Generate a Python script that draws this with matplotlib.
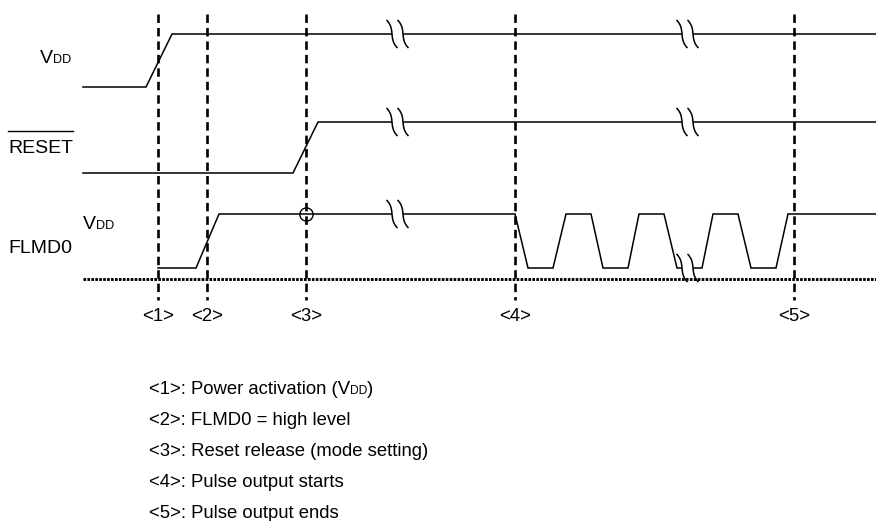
import re
import numpy as np
import matplotlib
matplotlib.use("Agg")
import matplotlib.pyplot as plt

FONT = ["Liberation Sans", "DejaVu Sans"]

# ---------------- data ----------------
signal_names = ["V{DD}", "RESET", "FLMD0"]
vdd_t = [83, 146, 172, 876]
vdd_lvl = [0, 0, 1, 1]
reset_t = [83, 293, 318, 876]
reset_lvl = [0, 0, 1, 1]
flmd0_t = [158, 196, 219, 515, 528, 553, 566, 591, 603, 628, 639, 664,
           677, 702, 713, 738, 751, 776, 788, 876]
flmd0_lvl = [0, 0, 1, 1, 0, 0, 1, 1, 0, 0, 1, 1, 0, 0, 1, 1, 0, 0, 1, 1]
event_t = [158, 207, 306, 515, 794]
event_labels = ["<1>", "<2>", "<3>", "<4>", "<5>"]
legend_labels = ["Power activation (V{DD})", "FLMD0 = high level",
                 "Reset release (mode setting)", "Pulse output starts",
                 "Pulse output ends"]
break_t = [387, 677]
mode_set_t = 306

# ---------------- layout ----------------
rails = [(87, 34), (173, 122), (268, 214)]  # (low y, high y) per signal

fig = plt.figure(figsize=(8.76, 5.21), dpi=100)
ax = fig.add_axes([0, 0, 1, 1])
ax.set_xlim(0, 876)
ax.set_ylim(521, 0)
ax.axis("off")
renderer = fig.canvas.get_renderer()


def rich(x, y, s, size, ha="left"):
    parts = re.split(r"(\{[^}]*\})", s)
    pieces = [(p[1:-1], size * 0.65) if p.startswith("{") else (p, size)
              for p in parts if p]
    items, total = [], 0.0
    for txt, sz in pieces:
        t = ax.text(0, y, txt, fontsize=sz, family=FONT, va="baseline",
                    ha="left", color="black")
        w = t.get_window_extent(renderer).width
        items.append((t, w))
        total += w
    if ha == "center":
        x -= total / 2
    for t, w in items:
        t.set_x(x)
        x += w
    return total


signals = [(vdd_t, vdd_lvl), (reset_t, reset_lvl), (flmd0_t, flmd0_lvl)]
sig_y = []
for (t, lvl), (lo, hi) in zip(signals, rails):
    y = [lo - l * (lo - hi) for l in lvl]
    sig_y.append(y)
    ax.plot(t, y, color="black", lw=1.1, zorder=2, solid_joinstyle="miter")

# baseline (GND) dotted
ax.plot([83, 876], [279, 279], color="black", lw=2.1,
        linestyle=(0, (0.9, 0.45)), zorder=2)

# event dashed lines
for ex in event_t:
    ax.plot([ex, ex], [14, 300], color="black", lw=1.9,
            linestyle=(0, (3.2, 1.9)), zorder=3)

# labels of events
for ex, lab in zip(event_t, event_labels):
    rich(ex, 321, lab, 13.4, ha="center")

# mode set circle
ax.plot(mode_set_t, np.interp(mode_set_t, flmd0_t, sig_y[2]), "o", ms=9.5,
        mfc="none", mec="black", mew=1.0, zorder=4)

# break marks
w, h, gap = 10, 27, 11
tt = np.linspace(0, 1, 80)
shape = 0.25 * tt + 0.75 * (0.5 + 0.5 * (2 * tt - 1) ** 3)
for bx in break_t:
    for (t, _), y in zip(signals, sig_y):
        yc = float(np.interp(bx + w, t, y))
        ax.plot([bx + w / 2, bx + gap + w / 2], [yc, yc], color="white",
                lw=3, zorder=3, solid_capstyle="butt")
        for k in range(2):
            x0 = bx + k * gap
            xs = x0 + w * shape
            ys = yc - h / 2 + h * tt
            ax.plot(xs, ys, color="black", lw=1.1, zorder=4)

# left labels
rich(40, 63, signal_names[0], 14)
wr = rich(8, 153, signal_names[1], 14)
ax.plot([8, 8 + wr], [131, 131], color="black", lw=1.0)
rich(8, 253, signal_names[2], 14)
rich(83, 229, "V{DD}", 14)

# legend text
for i, (lab, txt) in enumerate(zip(event_labels, legend_labels)):
    rich(149, 394 + 31 * i, lab + ": " + txt, 13.3)

fig.savefig("out.png", dpi=100, facecolor="white")
